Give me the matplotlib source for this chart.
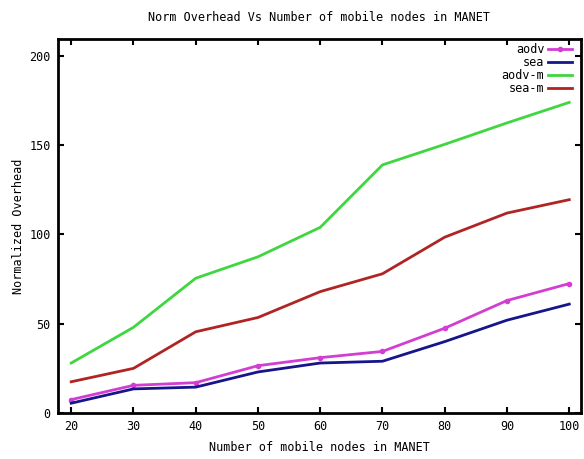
import matplotlib
matplotlib.use("Agg")
import matplotlib.pyplot as plt

# ----------------------------------------------------------------------------
# Data
# ----------------------------------------------------------------------------
nodes = [20, 30, 40, 50, 60, 70, 80, 90, 100]
aodv = [7.5, 15.5, 17, 26.5, 31, 34.5, 47.5, 63, 72.5]
sea = [5.5, 13.5, 14.5, 23, 28, 29, 40, 52, 61]
aodv_m = [28, 48, 75.5, 87.5, 104, 139, 150.5, 162.5, 174]
sea_m = [17.5, 25, 45.5, 53.5, 68, 78, 98.5, 112, 119.5]
yticks = [0, 50, 100, 150, 200]

FS = 8.5
plt.rcParams["font.family"] = "DejaVu Sans Mono"
plt.rcParams["font.size"] = FS

fig = plt.figure(figsize=(5.84, 4.59), dpi=100)
ax = fig.add_axes([0.0985, 0.1002, 0.8965, 0.8148])

ax.plot(nodes, aodv, color="#d23ed2", lw=2, marker="o", ms=3, label="aodv")
ax.plot(nodes, sea, color="#16168a", lw=2, label="sea")
ax.plot(nodes, aodv_m, color="#3fd63f", lw=2, label="aodv-m")
ax.plot(nodes, sea_m, color="#b02424", lw=2, label="sea-m")

ax.set_xlim(17.8, 101.9)
ax.set_ylim(0, 209.5)
ax.set_xticks(nodes)
ax.set_yticks(yticks)
ax.tick_params(direction="in", length=4, width=1.5, top=True, right=True,
               pad=5, labelsize=FS)
for s in ax.spines.values():
    s.set_linewidth(2)

ax.set_title("Norm Overhead Vs Number of mobile nodes in MANET",
             fontsize=FS, pad=13)
ax.set_xlabel("Number of mobile nodes in MANET", labelpad=6)
ax.set_ylabel("Normalized Overhead", labelpad=3)

# markerfirst=False -> text right-aligned left of the sample, like gnuplot
ax.legend(loc="upper right", bbox_to_anchor=(0.994, 1.005), frameon=False,
          markerfirst=False, handlelength=2.0, handletextpad=0.35,
          labelspacing=0.0, borderaxespad=0.3, borderpad=0.2)

fig.savefig("out.png", dpi=100)
